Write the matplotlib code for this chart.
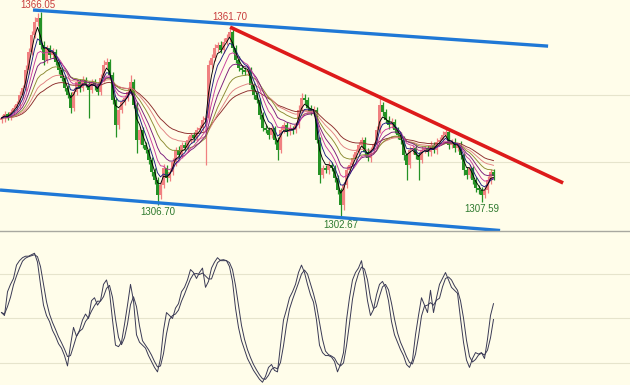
import numpy as np
import pandas as pd
import matplotlib
matplotlib.use('Agg')
import matplotlib.pyplot as plt

# close prices, one per bar
closes = [
    1333.5, 1334.8, 1333.8, 1335.4, 1336.6, 1337.9, 1340.6, 1342.8, 1348.4, 1354.0,
    1359.3, 1363.3, 1364.5, 1356.1, 1351.5, 1355.2, 1353.0, 1354.0, 1350.9, 1348.4,
    1345.9, 1342.8, 1340.6, 1336.6, 1341.6, 1344.7, 1342.8, 1345.3, 1344.1, 1342.2,
    1344.7, 1343.4, 1341.6, 1345.9, 1349.9, 1350.9, 1346.9, 1339.1, 1331.3, 1336.0,
    1338.5, 1339.7, 1341.6, 1344.7, 1337.5, 1326.7, 1329.8, 1325.1, 1323.6, 1320.5,
    1316.8, 1314.3, 1309.7, 1312.7, 1318.0, 1314.9, 1316.8, 1319.9, 1323.6, 1322.0,
    1325.1, 1324.2, 1326.7, 1328.2, 1327.3, 1329.8, 1330.4, 1332.9, 1333.5, 1349.9,
    1352.1, 1355.2, 1356.1, 1354.6, 1357.1, 1358.3, 1360.2, 1355.2, 1351.5, 1349.0,
    1348.4, 1347.8, 1348.4, 1343.7, 1340.6, 1339.1, 1334.5, 1330.4, 1329.8, 1328.2,
    1330.4, 1326.7, 1323.6, 1329.8, 1331.3, 1329.2, 1330.4, 1329.8, 1331.3, 1336.0,
    1339.7, 1339.1, 1336.6, 1335.4, 1336.0, 1326.7, 1315.9, 1318.0, 1317.4, 1319.0,
    1318.0, 1314.9, 1311.2, 1306.5, 1312.7, 1317.4, 1319.0, 1321.1, 1323.0, 1325.1,
    1326.7, 1323.0, 1321.1, 1323.6, 1325.1, 1329.8, 1337.5, 1335.4, 1332.9, 1331.3,
    1332.3, 1329.8, 1328.2, 1326.7, 1322.0, 1319.0, 1323.6, 1324.2, 1322.0, 1320.5,
    1323.6, 1324.2, 1323.0, 1325.1, 1323.6, 1326.1, 1326.7, 1328.2, 1329.2, 1325.1,
    1326.1, 1324.2, 1325.1, 1322.0, 1317.4, 1315.9, 1318.0, 1314.3, 1311.8, 1311.2,
    1309.7, 1311.2, 1314.3, 1316.8, 1315.5,
]
first_open = 1333.0

wick_up = [
    0.8, 1.0, 0.7, 0.9, 1.1, 0.8, 1.2, 1.0, 1.5, 1.3, 1.1, 1.4, 1.55, 2.0, 1.2,
    1.0, 0.9, 1.2, 0.8, 0.7, 1.0, 0.9, 0.8, 1.1, 1.3, 0.9, 1.0, 1.2, 0.8, 0.9,
    1.0, 0.8, 1.1, 1.2, 1.5, 1.3, 0.9, 0.8, 0.7, 1.0, 0.9, 1.1, 1.2, 2.1, 0.8,
    0.9, 1.3, 0.8, 1.0, 0.7, 0.9, 1.1, 0.8, 1.2, 1.4, 0.9, 1.0, 1.2, 0.8, 1.1,
    0.9, 1.0, 1.2, 0.8, 1.1, 0.9, 1.0, 1.3, 0.8, 1.6, 1.2, 1.4, 1.0, 1.3, 1.1,
    1.2, 1.5, 0.9, 1.0, 1.2, 0.8, 1.0, 1.3, 0.9, 0.8, 1.0, 0.7, 0.9, 1.1, 1.0,
    1.2, 0.8, 1.0, 1.3, 1.1, 0.9, 1.2, 0.8, 1.0, 1.4, 1.5, 1.2, 0.9, 1.0, 1.3,
    0.8, 0.9, 1.1, 1.0, 1.2, 0.8, 0.9, 1.0, 0.7, 1.1, 1.3, 1.0, 1.2, 0.9, 1.1,
    0.9, 1.0, 1.2, 0.8, 1.1, 1.4, 3.1, 1.0, 0.9, 1.1, 1.2, 0.8, 1.0, 0.9, 1.1,
    0.8, 1.2, 1.0, 0.9, 1.1, 1.3, 0.8, 1.0, 1.2, 0.9, 1.1, 1.0, 1.3, 1.2, 0.9,
    1.0, 1.1, 0.8, 1.2, 0.9, 1.0, 1.3, 0.8, 0.9, 1.0, 0.8, 1.1, 1.2, 1.0, 0.9,
]
wick_down = [
    0.9, 1.1, 0.8, 1.0, 0.7, 0.9, 1.2, 0.8, 1.0, 1.1, 0.9, 1.0, 1.2, 1.3, 1.5,
    0.8, 1.0, 0.9, 1.1, 1.2, 0.8, 1.0, 0.9, 1.5, 1.0, 0.8, 1.1, 0.9, 1.0, 8.7,
    0.9, 1.2, 1.0, 0.8, 1.1, 0.9, 1.0, 1.3, 3.7, 1.2, 0.9, 1.0, 0.8, 1.1, 1.0,
    4.0, 1.2, 1.0, 0.9, 1.3, 1.1, 1.2, 3.0, 1.4, 0.9, 1.1, 1.0, 0.8, 1.2, 0.9,
    1.0, 0.8, 1.1, 0.9, 1.2, 1.0, 0.8, 0.9, 14.0, 1.0, 1.1, 0.9, 1.2, 0.8, 1.0,
    0.9, 1.1, 1.2, 1.0, 0.8, 1.3, 0.9, 1.0, 1.1, 1.2, 0.9, 1.3, 1.0, 0.8, 1.1,
    0.9, 1.2, 3.1, 1.0, 0.8, 1.1, 0.9, 1.2, 1.0, 0.8, 0.9, 1.1, 1.0, 0.8, 1.2,
    1.0, 2.5, 1.1, 0.9, 1.2, 1.0, 1.3, 1.1, 3.8, 1.5, 1.0, 0.9, 1.1, 0.8, 1.0,
    1.0, 1.2, 0.9, 1.1, 0.8, 1.0, 0.9, 1.2, 1.0, 1.1, 0.8, 1.0, 1.2, 1.3, 1.5,
    4.7, 1.0, 1.2, 1.1, 6.2, 1.0, 0.9, 1.3, 1.1, 1.0, 1.2, 0.8, 1.0, 0.9, 1.1,
    1.0, 1.2, 0.9, 1.1, 1.4, 1.2, 1.0, 1.3, 1.1, 1.2, 2.1, 1.0, 0.9, 1.1, 1.2,
]

# stochastic %K
stoch_k = [
    54, 52, 68, 73, 77, 86, 89, 91, 92, 92, 93, 94, 88, 73, 59,
    52, 48, 42, 38, 33, 30, 25, 18, 32, 44, 38, 42, 49, 53, 50,
    62, 64, 59, 62, 73, 76, 68, 49, 32, 31, 34, 46, 59, 73, 62,
    39, 34, 32, 30, 25, 21, 17, 14, 23, 42, 54, 52, 50, 57, 60,
    68, 71, 76, 83, 81, 77, 81, 84, 71, 75, 84, 88, 91, 89, 89,
    89, 85, 75, 57, 44, 35, 29, 23, 19, 15, 12, 9, 7, 11, 17,
    19, 15, 14, 32, 49, 56, 64, 68, 73, 81, 86, 81, 73, 66, 61,
    49, 32, 27, 25, 25, 24, 21, 14, 19, 27, 49, 64, 76, 81, 84,
    89, 77, 62, 52, 56, 66, 73, 75, 71, 62, 48, 39, 34, 29, 25,
    19, 17, 22, 39, 52, 64, 59, 54, 69, 54, 64, 73, 77, 81, 76,
    71, 69, 67, 50, 34, 22, 17, 23, 27, 26, 27, 23, 36, 52, 60,
]

# trend lines: (bar, price) end points
upper_channel = ([10.5, 182.2], [1367.0, 1355.8])
lower_channel = ([-0.5, 166.2], [1311.2, 1298.65])
red_trend = ([76.2, 187.2], [1361.7, 1313.4])

# labelled extremes: bar, price text, colour, above/below
labels = [
    (12, '1366.05', '#c83c3c', 'high'),
    (76, '1361.70', '#c83c3c', 'high'),
    (52, '1306.70', '#2f7a2f', 'low'),
    (113, '1302.67', '#2f7a2f', 'low'),
    (160, '1307.59', '#2f7a2f', 'low'),
]

price_grid = [1319.9, 1340.6]
stoch_grid = [20, 50, 80]

ma_spans = [3, 5, 8, 12, 18, 26, 36]
ma_colors = ['#000000', '#1c1c80', '#c83c9c', '#7a1a7a', '#8a8a30', '#e08080', '#8b2a2a']

bg = '#fffdea'
up_col = '#f08080'
down_col = '#259225'

n = len(closes)
idx = np.arange(n)
c = np.array(closes)
o = np.array([first_open] + closes[:-1])
h = np.maximum(o, c) + np.array(wick_up)
l = np.minimum(o, c) - np.array(wick_down)
up = c >= o

fig = plt.figure(figsize=(6.3, 3.85), dpi=100, facecolor=bg)
ax = fig.add_axes([0, 0.4, 1, 0.6], facecolor=bg)
ax2 = fig.add_axes([0, 0, 1, 0.4], facecolor=bg)

for a in (ax, ax2):
    a.set_xlim(-0.5, 209.5)
    a.set_xticks([])
    a.set_yticks([])
    for s in a.spines.values():
        s.set_visible(False)

ax.set_ylim(1298.5, 1370.1)
for g in price_grid:
    ax.axhline(g, color='#e6e4cc', lw=0.8, zorder=0)

# candles
cols = np.where(up, up_col, down_col)
ax.vlines(idx, l, h, colors=cols, lw=0.9, zorder=2)
body = np.maximum(np.abs(c - o), 0.3)
ax.bar(idx, body, bottom=np.minimum(o, c), width=0.72, color=cols,
       edgecolor='none', zorder=3)

# moving average ribbon
s = pd.Series(c)
for span, col in zip(reversed(ma_spans), reversed(ma_colors)):
    ax.plot(idx, s.ewm(span=span, adjust=False).mean(), color=col, lw=0.65, zorder=4)

ax.plot(*upper_channel, color='#1f78d6', lw=2.4, solid_capstyle='butt', zorder=5)
ax.plot(*lower_channel, color='#1f78d6', lw=2.4, solid_capstyle='butt', zorder=5)
ax.plot(*red_trend, color='#dd1a1a', lw=2.6, solid_capstyle='butt', zorder=5)

for bar, txt, col, side in labels:
    if side == 'high':
        dy = 2.5 if bar == 12 else 4
        ax.annotate(txt, (bar, h[bar]), xytext=(0, dy), textcoords='offset points',
                    ha='center', va='bottom', color=col, fontsize=7,
                    family='Liberation Sans')
    else:
        ax.annotate(txt, (bar, l[bar]), xytext=(0, -2), textcoords='offset points',
                    ha='center', va='top', color=col, fontsize=7,
                    family='Liberation Sans')

# oscillator panel
ax2.set_ylim(5.15, 109.0)
for g in stoch_grid:
    ax2.axhline(g, color='#e6e4cc', lw=0.8, zorder=0)
ax2.spines['top'].set_visible(True)
ax2.spines['top'].set_color('#a8a8a0')
ax2.spines['top'].set_linewidth(1.0)
k = pd.Series(stoch_k, dtype=float)
d = k.rolling(3, min_periods=1).mean()
ax2.plot(idx, k, color='#3a3a55', lw=0.7)
ax2.plot(idx, d, color='#3a3a55', lw=0.7)

fig.savefig('out.png', dpi=100, facecolor=bg)
